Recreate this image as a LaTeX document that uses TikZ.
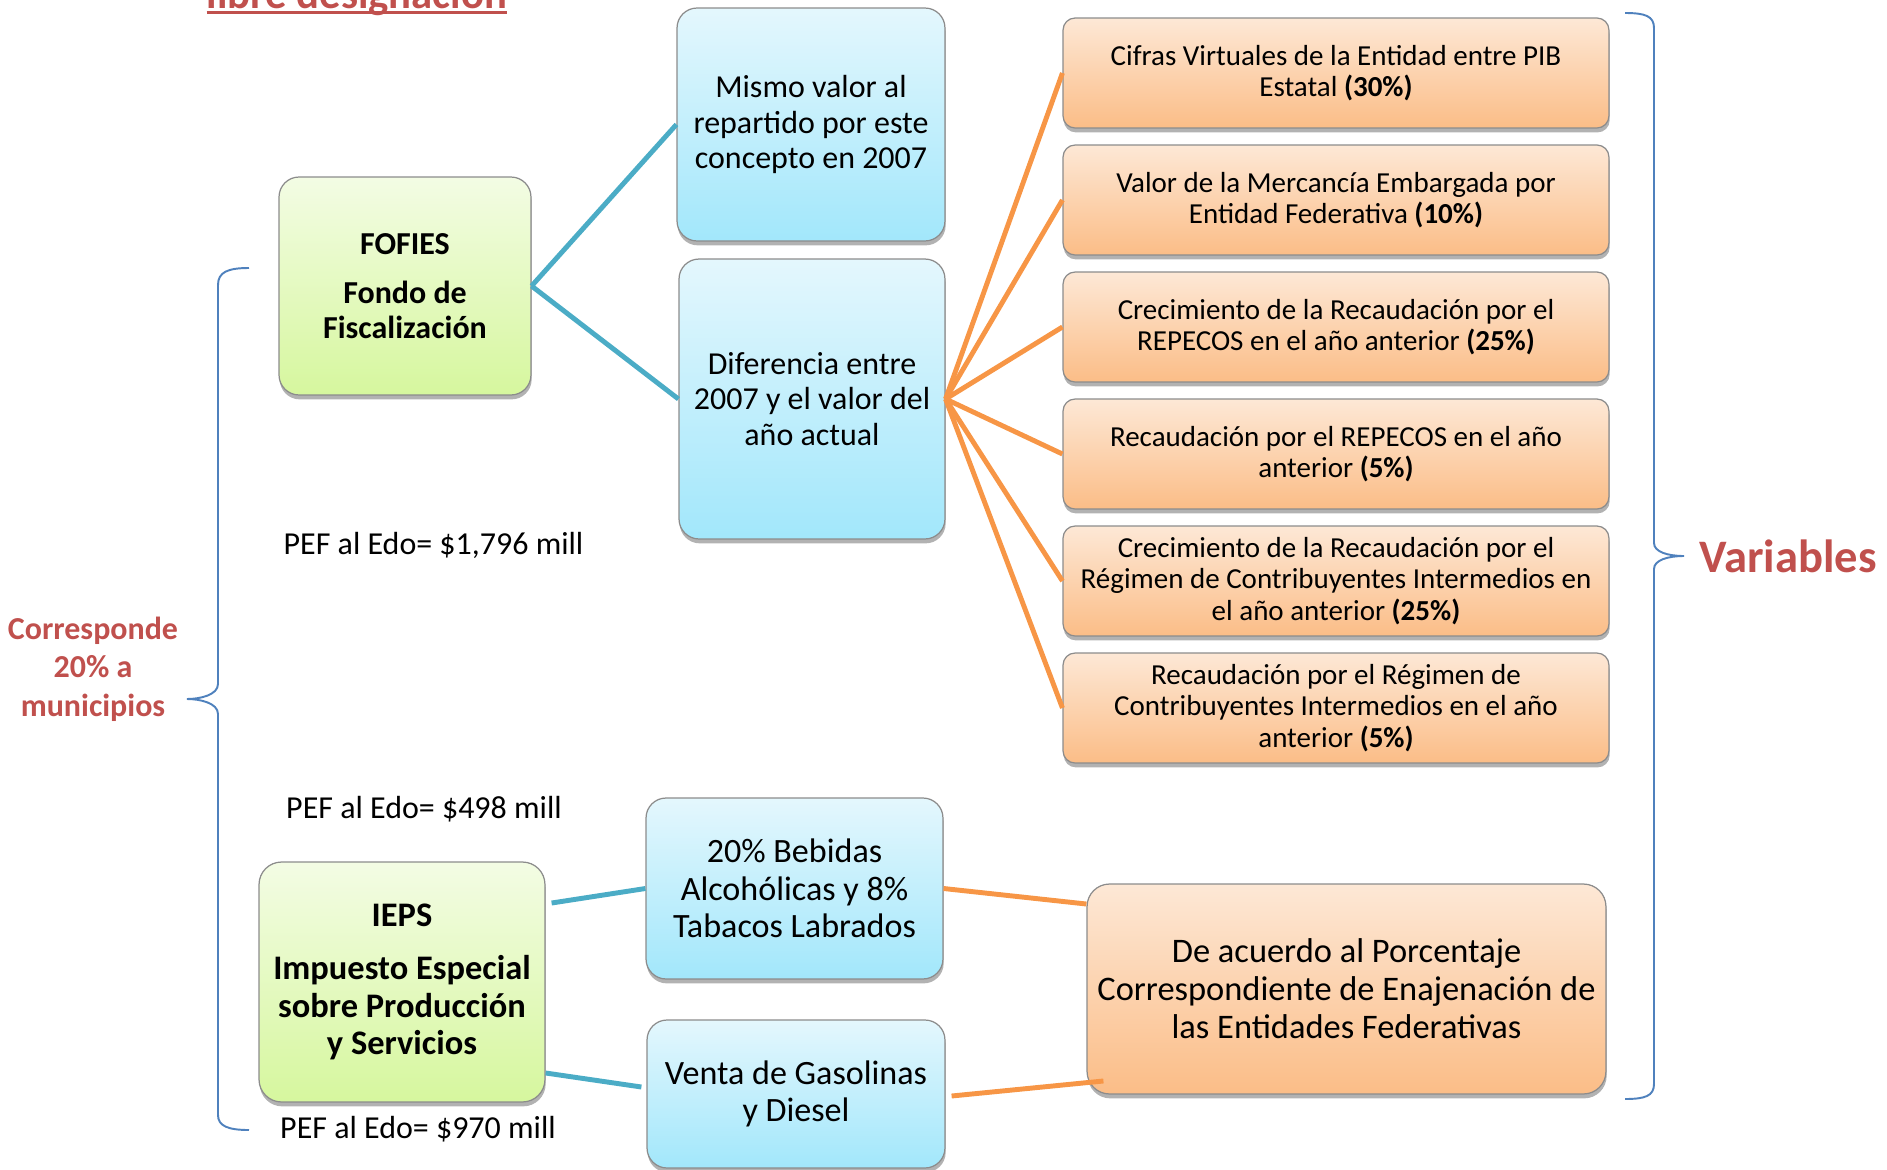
\documentclass[tikz,border=0pt]{standalone}
\usepackage{fontspec}
\setmainfont{Carlito}
\usetikzlibrary{shadows}
\definecolor{greentop}{HTML}{F3FCE4}
\definecolor{greenbot}{HTML}{D6F79E}
\definecolor{bluetop}{HTML}{E4F7FD}
\definecolor{bluebot}{HTML}{A2E7FB}
\definecolor{orangetop}{HTML}{FDE8D6}
\definecolor{orangebot}{HTML}{FBBD87}
\definecolor{lineblue}{HTML}{4BACC6}
\definecolor{lineorange}{HTML}{F79646}
\definecolor{braceblue}{HTML}{4F81BD}
\definecolor{textred}{HTML}{C0504D}

\begin{document}
\begin{tikzpicture}[x=0.02cm,y=-0.02cm,
    box/.style={draw=black!45,line width=0.7pt,rounded corners=0.4cm,inner sep=0pt,align=center,
      drop shadow={shadow xshift=0.4pt,shadow yshift=-2.5pt,opacity=0.3,fill=black}},
    greenbox/.style={box,top color=greentop,bottom color=greenbot},
    bluebox/.style={box,top color=bluetop,bottom color=bluebot},
    orangebox/.style={box,top color=orangetop,bottom color=orangebot},
    varbox/.style={orangebox,rounded corners=0.24cm,minimum width=10.92cm,minimum height=2.2cm,
      font=\fontsize{16.5}{17.9}\selectfont},
    blueline/.style={draw=lineblue,line width=2.8pt},
    orangeline/.style={draw=lineorange,line width=2.8pt},
    redtext/.style={text=textred,font=\bfseries\fontsize{18.2}{21.9}\selectfont,align=center},
    peftext/.style={font=\fontsize{18.2}{20}\selectfont},
    bracket/.style={draw=braceblue,line width=1.1pt}]
\useasboundingbox (0,0) rectangle (1887,1170);

% titulo cortado arriba
\node[text=textred,font=\bfseries\fontsize{24.3}{28}\selectfont,anchor=base,inner sep=0pt] (titulo) at (357,8) {libre designación};
\draw[textred,line width=1.8pt] ([yshift=-2.6pt]titulo.base west) -- ([yshift=-2.6pt]titulo.base east);

% FOFIES
\node[greenbox,minimum width=5.04cm,minimum height=4.36cm,font=\bfseries\fontsize{18.2}{19.9}\selectfont] (fofies) at (405,286) {FOFIES\\[8pt]Fondo de\\Fiscalización};
\node[bluebox,minimum width=5.36cm,minimum height=4.66cm,font=\fontsize{18.2}{20.2}\selectfont] (mismo) at (811,124.5) {Mismo valor al\\repartido por este\\concepto en 2007};
\node[bluebox,minimum width=5.32cm,minimum height=5.6cm,font=\fontsize{18.2}{20.2}\selectfont] (dif) at (812,399) {Diferencia entre\\2007 y el valor del\\año actual};

% variables
\node[varbox] (var1) at (1336,73) {Cifras Virtuales de la Entidad entre PIB\\Estatal \textbf{(30\%)}};
\node[varbox] (var2) at (1336,200) {Valor de la Mercancía Embargada por\\Entidad Federativa \textbf{(10\%)}};
\node[varbox] (var3) at (1336,327) {Crecimiento de la Recaudación por el\\REPECOS en el año anterior \textbf{(25\%)}};
\node[varbox] (var4) at (1336,454) {Recaudación por el REPECOS en el año\\anterior \textbf{(5\%)}};
\node[varbox] (var5) at (1336,581) {Crecimiento de la Recaudación por el\\Régimen de Contribuyentes Intermedios en\\el año anterior \textbf{(25\%)}};
\node[varbox] (var6) at (1336,708) {Recaudación por el Régimen de\\Contribuyentes Intermedios en el año\\anterior \textbf{(5\%)}};

% IEPS
\node[greenbox,rounded corners=0.45cm,minimum width=5.72cm,minimum height=4.8cm,font=\bfseries\fontsize{19.6}{21.3}\selectfont] (ieps) at (402,982) {IEPS\\[9pt]Impuesto Especial\\sobre Producción\\y Servicios};
\node[bluebox,minimum width=5.94cm,minimum height=3.62cm,font=\fontsize{19.4}{21.3}\selectfont] (bebidas) at (794.5,888.5) {20\% Bebidas\\Alcohólicas y 8\%\\Tabacos Labrados};
\node[bluebox,minimum width=5.96cm,minimum height=2.96cm,font=\fontsize{19.4}{21.3}\selectfont] (gasolina) at (796,1094) {Venta de Gasolinas\\y Diesel};
\node[orangebox,rounded corners=0.45cm,minimum width=10.38cm,minimum height=4.2cm,font=\fontsize{19.6}{21.6}\selectfont] (acuerdo) at (1346.5,989) {De acuerdo al Porcentaje\\Correspondiente de Enajenación de\\las Entidades Federativas};

% montos
\node[peftext] (pefa) at (433.5,545) {PEF al Edo= \$1,796 mill};
\node[peftext] (pefb) at (424,809) {PEF al Edo= \$498 mill};
\node[peftext] (pefc) at (418,1129) {PEF al Edo= \$970 mill};

\node[redtext] (munic) at (93,669) {Corresponde\\20\% a\\municipios};
\node[redtext,font=\bfseries\fontsize{26.5}{30}\selectfont,anchor=west,inner sep=0pt] (vars) at (1699,556) {Variables};

% lineas
\draw[blueline] (fofies.east) -- (mismo.west);
\draw[blueline] (fofies.east) -- (dif.west);
\draw[orangeline] (dif.east) -- (var1.west);
\draw[orangeline] (dif.east) -- (var2.west);
\draw[orangeline] (dif.east) -- (var3.west);
\draw[orangeline] (dif.east) -- (var4.west);
\draw[orangeline] (dif.east) -- (var5.west);
\draw[orangeline] (dif.east) -- (var6.west);
\draw[blueline] ([xshift=0.12cm,yshift=1.58cm]ieps.east) -- (bebidas.west);
\draw[blueline] ([yshift=-1.82cm]ieps.east) -- ([xshift=-0.1cm,yshift=0.14cm]gasolina.west);
\draw[orangeline] (bebidas.east) -- ([yshift=1.7cm]acuerdo.west);
\draw[orangeline] ([xshift=0.12cm,yshift=-0.04cm]gasolina.east) -- ([xshift=0.34cm,yshift=-1.84cm]acuerdo.west);

% llaves
\draw[bracket] (249,268) .. controls (228,268) and (218,272) .. (218,285) -- (218,684)
  .. controls (218,695) and (200,699) .. (187,699) .. controls (200,699) and (218,703) .. (218,714)
  -- (218,1115) .. controls (218,1126) and (228,1130) .. (249,1130);
\draw[bracket] (1625,13) .. controls (1645,13) and (1654,16) .. (1654,28) -- (1654,543)
  .. controls (1654,552) and (1668,556) .. (1684,556) .. controls (1668,556) and (1654,560) .. (1654,569)
  -- (1654,1084) .. controls (1654,1096) and (1645,1099) .. (1625,1099);
\end{tikzpicture}
\end{document}
